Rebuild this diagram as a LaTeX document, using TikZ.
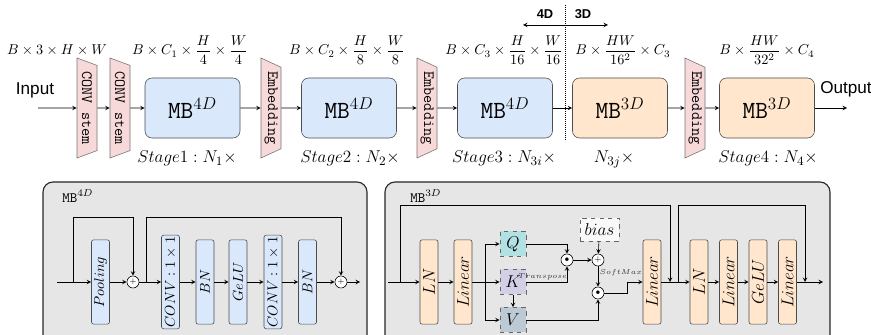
\documentclass[tikz,border=0pt]{standalone}
\usepackage{amsmath}
\usepackage{fontspec}
\setsansfont{Liberation Sans}
\usetikzlibrary{shapes,backgrounds}
\usetikzlibrary{arrows}

\definecolor{mbblue}{HTML}{DAE8FC}
\definecolor{mborange}{HTML}{FFE6CC}
\definecolor{stempink}{HTML}{F8D9D9}
\definecolor{panelgray}{HTML}{E6E6E6}
\definecolor{qcolor}{HTML}{B1E1E3}
\definecolor{kcolor}{HTML}{D3D0E6}
\definecolor{vcolor}{HTML}{BCCAD6}

\begin{document}
\begin{tikzpicture}[x=0.7pt,y=-0.7pt,>=stealth,
  stembox/.style={trapezium, trapezium left angle=60, trapezium right angle=60,
    trapezium stretches body, draw=black!55, fill=stempink, rotate=-90,
    minimum width=70pt, minimum height=14pt, inner sep=1pt,
    font=\fontsize{11}{12}\selectfont\ttfamily},
  mbbox/.style={rectangle, rounded corners=5pt, draw=black!70,
    minimum width=66.5pt, minimum height=42pt, font=\LARGE},
  layer/.style={rectangle, rounded corners=1.5pt, draw=black!70, rotate=90,
    minimum width=59pt, minimum height=12.6pt, inner sep=1pt},
  sumnode/.style={circle, draw, fill=white, minimum size=8.4pt, inner sep=0pt, font=\tiny},
  qkv/.style={rectangle, draw=black!60, dashed, minimum width=18.2pt,
    minimum height=17.5pt, font=\large},
  panel/.style={draw=black!85, line width=0.8pt, fill=panelgray, rounded corners=7pt},
  stagelabel/.style={anchor=base, font=\fontsize{12.5}{14}\selectfont},
  tinylabel/.style={font=\fontsize{4}{5}\selectfont, inner sep=1pt, text=black!80}]
\useasboundingbox (0,0) rectangle (871,335);

% top row
\node (inlabel) at (35,90) {\sffamily\large Input};
\coordinate (inp) at (38,108);
\node[stembox] (stemA) at (87,108) {CONV stem};
\node[stembox] (stemB) at (120,108) {CONV stem};
\node[mbbox, fill=mbblue] (mbA) at (192.5,108) {$\texttt{MB}^{4D}$};
\node[stembox] (embA) at (271,108) {Embedding};
\node[mbbox, fill=mbblue] (mbB) at (349,108) {$\texttt{MB}^{4D}$};
\node[stembox] (embB) at (427,108) {Embedding};
\node[mbbox, fill=mbblue] (mbC) at (505,108) {$\texttt{MB}^{4D}$};
\node[mbbox, fill=mborange] (mbD) at (620,108) {$\texttt{MB}^{3D}$};
\node[stembox] (embC) at (695,108) {Embedding};
\node[mbbox, fill=mborange] (mbE) at (767,108) {$\texttt{MB}^{3D}$};
\node (outlabel) at (846,89) {\sffamily\large Output};
\coordinate (outp) at (847,108);

\foreach \a/\b in {inp/stemA, stemA/stemB, stemB/mbA, mbA/embA, embA/mbB,
  mbB/embB, embB/mbC, mbC/mbD, mbD/embC, embC/mbE, mbE/outp}
  \draw[->] (\a) -- (\b);

% shapes
\node[anchor=base] (dimA) at (57,55) {$B\times 3\times H\times W$};
\node[anchor=base] (dimB) at (190,55) {$B\times C_1\times \dfrac{H}{4}\times \dfrac{W}{4}$};
\node[anchor=base] (dimC) at (347,55) {$B\times C_2\times \dfrac{H}{8}\times \dfrac{W}{8}$};
\node[anchor=base] (dimD) at (504,55) {$B\times C_3\times \dfrac{H}{16}\times \dfrac{W}{16}$};
\node[anchor=base] (dimE) at (623,55) {$B\times \dfrac{HW}{16^2}\times C_3$};
\node[anchor=base] (dimF) at (767,55) {$B\times \dfrac{HW}{32^2}\times C_4$};

% stages
\node[stagelabel] (stA) at (187,163) {$Stage1: N_1\times$};
\node[stagelabel] (stB) at (350,163) {$Stage2: N_2\times$};
\node[stagelabel] (stC) at (504,163) {$Stage3: N_{3i}\times$};
\node[stagelabel] (stD) at (614,163) {$N_{3j}\times$};
\node[stagelabel] (stE) at (768,163) {$Stage4: N_4\times$};

% 4D / 3D split
\coordinate (splitT) at (565,5);
\coordinate (splitB) at (565,140);
\draw[densely dotted] (splitT) -- (splitB);
\coordinate (arL) at (523,25);
\coordinate (arR) at (608,25);
\draw[<->] (arL) -- (arR);
\node[font=\sffamily\bfseries\small] (lab4) at (545,14) {4D};
\node[font=\sffamily\bfseries\small] (lab3) at (583,14) {3D};

% MB 4D block
\draw[panel] (43,182) rectangle (367,350);
\node[anchor=west, inner sep=0pt] (tagA) at (62,196) {$\texttt{MB}^{4D}$};
\coordinate (pinA) at (57,282);
\coordinate (brA) at (73,282);
\coordinate (brB) at (146,282);
\coordinate (poutA) at (360,282);
\node[layer, fill=mbblue] (pool) at (100.5,282) {$Pooling$};
\node[sumnode] (plusA) at (133,282) {$+$};
\node[layer, fill=mbblue] (convA) at (170.5,282) {$CONV:1\times 1$};
\node[layer, fill=mbblue] (bnA) at (205,282) {$BN$};
\node[layer, fill=mbblue] (gelu) at (238,282) {$GeLU$};
\node[layer, fill=mbblue] (convB) at (273,282) {$CONV:1\times 1$};
\node[layer, fill=mbblue] (bnB) at (307.5,282) {$BN$};
\node[sumnode] (plusB) at (341,282) {$+$};

\foreach \a/\b in {pinA/pool, pool/plusA, plusA/convA, convA/bnA, bnA/gelu,
  gelu/convB, convB/bnB, bnB/plusB, plusB/poutA}
  \draw[->] (\a) -- (\b);
\draw[->] (brA) -- ++(0,-65) -| (plusA);
\draw[->] (brB) -- ++(0,-65) -| (plusB);

% MB 3D block
\draw[panel] (385,182) rectangle (830,350);
\node[anchor=west, inner sep=0pt] (tagB) at (410,196) {$\texttt{MB}^{3D}$};
\coordinate (pinB) at (388,282);
\coordinate (brC) at (400,282);
\coordinate (fork) at (485,282);
\coordinate (joinA) at (670,282);
\coordinate (brD) at (678,282);
\coordinate (joinB) at (805,282);
\coordinate (poutB) at (823,282);
\node[layer, fill=mborange, font=\large] (lnA) at (429,282) {$LN$};
\node[layer, fill=mborange, font=\large] (linA) at (463,282) {$Linear$};
\node[qkv, fill=qcolor] (qq) at (513,244) {$Q$};
\node[qkv, fill=kcolor] (kk) at (513,282) {$K$};
\node[qkv, fill=vcolor] (vv) at (513,320) {$V$};
\node[sumnode] (dotA) at (567,260) {$\bullet$};
\node[sumnode] (plusC) at (598,260) {$+$};
\node[sumnode] (dotB) at (598,293) {$\bullet$};
\node[qkv, fill=gray!5, minimum width=27.3pt, minimum height=16pt] (bias) at (599.5,229.5) {$bias$};
\node[layer, fill=mborange, font=\large] (linB) at (652,282) {$Linear$};
\node[layer, fill=mborange, font=\large] (lnB) at (699,282) {$LN$};
\node[layer, fill=mborange, font=\large] (linC) at (728.5,282) {$Linear$};
\node[layer, fill=mborange, font=\large] (geluB) at (758,282) {$GeLU$};
\node[layer, fill=mborange, font=\large] (linD) at (787.5,282) {$Linear$};

\draw[->] (pinB) -- (lnA);
\draw[->] (lnA) -- (linA);
\draw (linA) -- (fork);
\draw[->] (fork) |- (qq);
\draw[->] (fork) -- (kk);
\draw[->] (fork) |- (vv);
\draw[->] (kk) -- (vv);
\draw[->] (qq) -| (dotA);
\draw[->] (kk) -| (dotA) node[pos=0.2, above, tinylabel] {$Transpose$};
\draw[->] (dotA) -- (plusC);
\draw[->] (bias) -- (plusC);
\draw[->] (plusC) -- (dotB) node[pos=0.3, right, tinylabel] {$SoftMax$};
\draw[->] (vv) -| (dotB);
\draw[->] (dotB) -- ++(29,0) |- (linB);
\foreach \a/\b in {linB/lnB, lnB/linC, linC/geluB, geluB/linD, linD/poutB}
  \draw[->] (\a) -- (\b);
\draw[->] (brC) -- ++(0,-77) -| (joinA);
\draw[->] (brD) -- ++(0,-77) -| (joinB);

\end{tikzpicture}
\end{document}
